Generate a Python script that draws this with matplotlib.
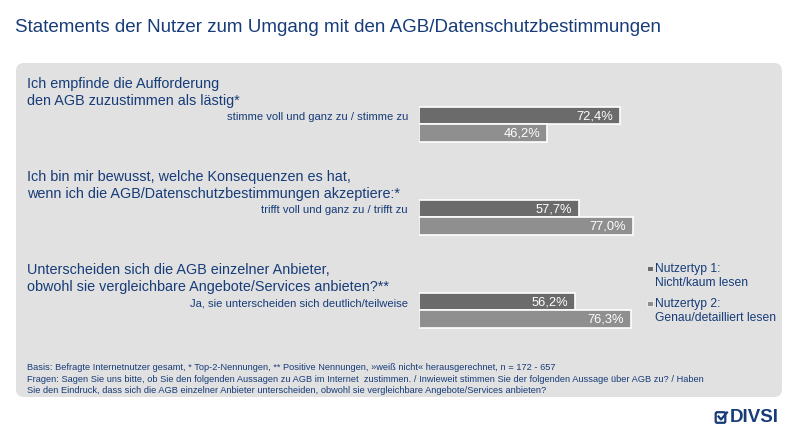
import matplotlib.pyplot as plt
from matplotlib.patches import FancyBboxPatch, Rectangle

plt.rcParams['font.family'] = ['Liberation Sans', 'DejaVu Sans']

# data
questions = [
    'Ich empfinde die Aufforderung\nden AGB zuzustimmen als lästig*',
    'Ich bin mir bewusst, welche Konsequenzen es hat,\nwenn ich die AGB/Datenschutzbestimmungen akzeptiere:*',
    'Unterscheiden sich die AGB einzelner Anbieter,\nobwohl sie vergleichbare Angebote/Services anbieten?**',
]
answers = [
    'stimme voll und ganz zu / stimme zu',
    'trifft voll und ganz zu / trifft zu',
    'Ja, sie unterscheiden sich deutlich/teilweise',
]
typ1 = [72.4, 57.7, 56.2]
typ2 = [46.2, 77.0, 76.3]
legend_labels = ['Nutzertyp 1:\nNicht/kaum lesen', 'Nutzertyp 2:\nGenau/detailliert lesen']
title = 'Statements der Nutzer zum Umgang mit den AGB/Datenschutzbestimmungen'
footnote = ('Basis: Befragte Internetnutzer gesamt, * Top-2-Nennungen, ** Positive Nennungen, '
            '»weiß nicht« herausgerechnet, n = 172 - 657\n'
            'Fragen: Sagen Sie uns bitte, ob Sie den folgenden Aussagen zu AGB im Internet  zustimmen. / '
            'Inwieweit stimmen Sie der folgenden Aussage über AGB zu? / Haben\n'
            'Sie den Eindruck, dass sich die AGB einzelner Anbieter unterscheiden, obwohl sie '
            'vergleichbare Angebote/Services anbieten?')

BLUE = '#173c78'
C1 = '#6b6b6b'
C2 = '#8f8f8f'
W, H = 800, 440

fig = plt.figure(figsize=(8, 4.4), dpi=100)
fig.patch.set_facecolor('white')

# background axes in pixel coords
bg = fig.add_axes([0, 0, 1, 1])
bg.set_xlim(0, W)
bg.set_ylim(H, 0)
bg.axis('off')

panel = FancyBboxPatch((20, 67), 758, 326, boxstyle='round,pad=4,rounding_size=8',
                       fc='#e1e1e1', ec='none')
bg.add_patch(panel)

bg.text(15, 27, title, fontsize=13.5, color=BLUE, va='center', ha='left')

# bar axes: 0..100 % mapped to px 419..697
x0, x100 = 419, 697
ax = fig.add_axes([x0 / W, 0, (x100 - x0) / W, 1])
ax.set_xlim(0, 100)
ax.set_ylim(H, 0)
ax.axis('off')

group_y = [124.5, 217.5, 310.5]
bh = 17.5
ax.barh([g - bh / 2 for g in group_y], typ1, height=bh, color=C1, edgecolor='white', linewidth=1.2)
ax.barh([g + bh / 2 for g in group_y], typ2, height=bh, color=C2, edgecolor='white', linewidth=1.2)

for i, g in enumerate(group_y):
    for val, yy in ((typ1[i], g - bh / 2), (typ2[i], g + bh / 2)):
        ax.text(val - 2.5, yy + 0.5, f'{val:.1f}%'.replace('.', ','), color='white',
                fontsize=9.3, ha='right', va='center')
    bg.text(27, g - 32, questions[i], fontsize=10.4, color=BLUE, ha='left', va='center',
            linespacing=1.3)
    bg.text(408, g - 7.5, answers[i], fontsize=8.1, color=BLUE, ha='right', va='center')

# legend
for lab, col, yy in zip(legend_labels, [C1, C2], [269, 304]):
    bg.add_patch(Rectangle((647, yy - 3), 5.5, 5.5, fc=col, ec='white', lw=0.5))
    bg.text(655, yy - 6, lab, fontsize=8.7, color=BLUE, ha='left', va='top', linespacing=1.25)

bg.text(27, 379, footnote, fontsize=6.7, color=BLUE, ha='left', va='center', linespacing=1.4)

# logo
bg.add_patch(FancyBboxPatch((716, 412.5), 9, 10, boxstyle='round,pad=0.3,rounding_size=1.5',
                            fc='none', ec=BLUE, lw=1.6))
bg.plot([718.5, 721, 727], [416.5, 419.5, 412.5], color=BLUE, lw=1.6)
bg.text(730, 418, 'DIVSI', fontsize=13.5, fontweight='bold', color=BLUE, ha='left', va='center')

fig.savefig('out.png', dpi=100)
